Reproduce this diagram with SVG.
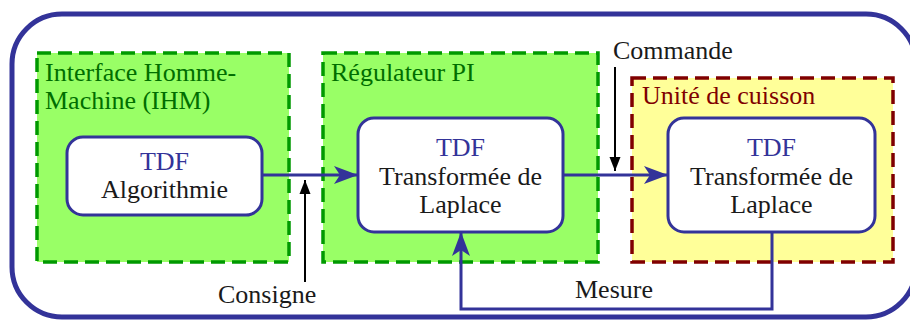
<svg xmlns="http://www.w3.org/2000/svg" width="910" height="321" viewBox="0 0 910 321">
<style>
text{font-family:"Liberation Serif","Times New Roman",serif;font-size:26px}
.grp{fill:#99ff66;stroke:#009900;stroke-width:3.5;stroke-dasharray:14,7}
.cook{fill:#ffff99;stroke:#800000;stroke-width:3.5;stroke-dasharray:14,7}
.node{fill:#ffffff;stroke:#333399;stroke-width:3}
.tdf{fill:#333399}
.blk{fill:#1a1a1a}
.gt{fill:#006e00}
.rt{fill:#800000}
.bl{fill:none;stroke:#333399;stroke-width:3}
.ka{fill:none;stroke:#000000;stroke-width:2}
</style>
<defs>
<marker id="ab" markerUnits="userSpaceOnUse" markerWidth="26" markerHeight="20" refX="23" refY="10" orient="auto">
<path d="M0,1 L24,10 L0,19 L6,10 Z" fill="#333399"/>
</marker>
<marker id="ak" markerUnits="userSpaceOnUse" markerWidth="14" markerHeight="12" refX="14" refY="6" orient="auto">
<path d="M0,0.5 L14,6 L0,11.5 Z" fill="#000000"/>
</marker>
</defs>
<rect id="frame" x="12" y="14" width="904" height="303" rx="50" fill="none" stroke="#333399" stroke-width="5"/>
<g id="ihm">
<rect class="grp" x="37" y="53" width="252" height="209"/>
<text class="gt" x="45" y="81">Interface Homme-</text>
<text class="gt" x="45" y="109">Machine (IHM)</text>
</g>
<g id="regulateur">
<rect class="grp" x="323" y="53" width="275" height="209"/>
<text class="gt" x="331" y="81">Régulateur PI</text>
</g>
<g id="cuisson">
<rect class="cook" x="632" y="78" width="261" height="184"/>
<text class="rt" x="642" y="104">Unité de cuisson</text>
</g>
<g id="algo">
<rect class="node" x="67" y="137" width="195" height="78" rx="16"/>
<text class="tdf" x="164.5" y="170" text-anchor="middle">TDF</text>
<text class="blk" x="164.5" y="198" text-anchor="middle">Algorithmie</text>
</g>
<g id="laplace1">
<rect class="node" x="358" y="118" width="205" height="114" rx="16"/>
<text class="tdf" x="460.5" y="156" text-anchor="middle">TDF</text>
<text class="blk" x="460.5" y="185" text-anchor="middle">Transformée de</text>
<text class="blk" x="460.5" y="213" text-anchor="middle">Laplace</text>
</g>
<g id="laplace2">
<rect class="node" x="668" y="118" width="207" height="114" rx="16"/>
<text class="tdf" x="771.5" y="156" text-anchor="middle">TDF</text>
<text class="blk" x="771.5" y="185" text-anchor="middle">Transformée de</text>
<text class="blk" x="771.5" y="213" text-anchor="middle">Laplace</text>
</g>
<g id="connectors">
<path class="bl" d="M262,175 L357,175" marker-end="url(#ab)"/>
<path class="bl" d="M563,175 L667,175" marker-end="url(#ab)"/>
<path class="bl" d="M772,232 L772,309 L461,309 L461,233" marker-end="url(#ab)"/>
<path class="ka" d="M305,282 L305,180" marker-end="url(#ak)"/>
<path class="ka" d="M615,67 L615,171" marker-end="url(#ak)"/>
<text class="blk" x="218" y="303">Consigne</text>
<text class="blk" x="613" y="59">Commande</text>
<text class="blk" x="575" y="298">Mesure</text>
</g>
</svg>
